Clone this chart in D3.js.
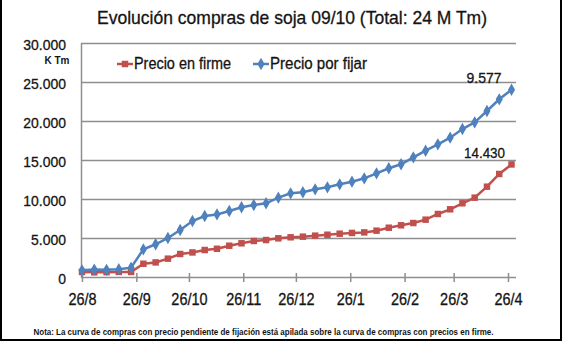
<!DOCTYPE html>
<html>
<head>
<meta charset="utf-8">
<script src="https://cdn.jsdelivr.net/npm/d3@7"></script>
<style>
    html, body { margin: 0; padding: 0; background: #fff; }
    svg { display: block; }
    text { font-family: "Liberation Sans", Arial, sans-serif; fill: #141414; }
    text.heavy { stroke: #141414; stroke-width: 0.3px; }
</style>
</head>
<body>
<svg id="chart" width="562" height="342"></svg>
<script>
// weekly purchase dates, 2009/10 campaign
const weeks = [
    "2009-08-26", "2009-09-02", "2009-09-09", "2009-09-16", "2009-09-23", "2009-09-30",
    "2009-10-07", "2009-10-14", "2009-10-21", "2009-10-28", "2009-11-04", "2009-11-11",
    "2009-11-18", "2009-11-25", "2009-12-02", "2009-12-09", "2009-12-16", "2009-12-23",
    "2009-12-30", "2010-01-06", "2010-01-13", "2010-01-20", "2010-01-27", "2010-02-03",
    "2010-02-10", "2010-02-17", "2010-02-24", "2010-03-03", "2010-03-10", "2010-03-17",
    "2010-03-24", "2010-03-31", "2010-04-07", "2010-04-14", "2010-04-21", "2010-04-28"
];

// K Tm
const precioEnFirme = [
    650, 600, 620, 650, 650, 1700, 1870, 2350, 2950, 3150, 3460, 3620,
    4010, 4320, 4620, 4740, 4960, 5090, 5170, 5300, 5420, 5550, 5650, 5720,
    5940, 6320, 6630, 6920, 7350, 8080, 8680, 9450, 10170, 11580, 13210, 14430
];

// stacked on top of precioEnFirme
const precioPorFijar = [
    200, 350, 300, 350, 550, 1850, 2330, 2650, 3080, 4030, 4360, 4400,
    4450, 4620, 4610, 4710, 5210, 5640, 5690, 5940, 6080, 6330, 6570, 6930,
    7350, 7620, 7820, 8420, 8840, 8930, 9180, 9520, 9660, 9700, 9570, 9577
];

const tickDates = [
    "2009-08-26", "2009-09-26", "2009-10-26", "2009-11-26", "2009-12-26",
    "2010-01-26", "2010-02-26", "2010-03-26", "2010-04-26"
];
const tickLabels = ["26/8", "26/9", "26/10", "26/11", "26/12", "26/1", "26/2", "26/3", "26/4"];
const yTicks = [0, 5000, 10000, 15000, 20000, 25000, 30000];

const
    svg = d3.select("#chart"),
    parse = d3.utcParse("%Y-%m-%d"),
    fmt = d3.format(",.0f"),
    label = v => fmt(v).replace(/,/g, ".");

// the original uses a narrow face; squeeze Liberation Sans to match
function squeeze(sel, factor) {
    sel.each(function () {
        const w = this.getComputedTextLength();
        d3.select(this).attr("textLength", w * factor).attr("lengthAdjust", "spacingAndGlyphs");
    });
}
function fit(sel, width) {
    sel.attr("textLength", width).attr("lengthAdjust", "spacingAndGlyphs");
}

const
    plot = { left: 81, right: 516, top: 43, bottom: 277 },
    x = d3.scaleUtc()
        .domain([parse(tickDates[0]), parse(tickDates[tickDates.length - 1])])
        .range([82, 508]),
    y = d3.scaleLinear().domain([0, 30000]).range([plot.bottom, plot.top]);

const rows = weeks.map((w, i) => ({ date: parse(w), firme: precioEnFirme[i], fijar: precioPorFijar[i] }));
const stacked = d3.stack().keys(["firme", "fijar"])(rows);

// outer frame
svg.append("path")
    .attr("d", "M1,0 V340 H561 V0")
    .attr("fill", "none")
    .attr("stroke", "#000")
    .attr("stroke-width", 2);

// title
svg.append("text")
    .attr("x", 97)
    .attr("y", 24)
    .attr("class", "heavy")
    .style("font-size", "19px")
    .text("Evolución compras de soja 09/10 (Total: 24 M Tm)")
    .call(fit, 390);

// gridlines
svg.append("g")
    .selectAll("line")
    .data(yTicks.filter(d => d > 0))
    .join("line")
    .attr("x1", plot.left)
    .attr("x2", plot.right)
    .attr("y1", d => Math.round(y(d)) + 0.5)
    .attr("y2", d => Math.round(y(d)) + 0.5)
    .attr("stroke", "#8e8e8e")
    .attr("stroke-width", 1.5);

// y axis
const yAxis = svg.append("g")
    .attr("transform", `translate(${plot.left},0)`)
    .call(d3.axisLeft(y).tickValues(yTicks).tickSize(0).tickPadding(15).tickFormat(label));
yAxis.select(".domain").attr("stroke", "#8e8e8e").attr("stroke-width", 1.5);
yAxis.selectAll("text")
    .attr("class", "heavy")
    .style("font-size", "15px")
    .style("font-family", null)
    .attr("fill", "#141414")
    .attr("dy", "0.46em")
    .call(squeeze, 0.93);

svg.append("text")
    .attr("x", 69.5)
    .attr("y", 64)
    .attr("text-anchor", "end")
    .style("font-size", "10px")
    .style("font-weight", "bold")
    .text("K Tm");

// x axis
const xAxis = svg.append("g")
    .attr("transform", `translate(0,${plot.bottom})`)
    .call(d3.axisBottom(x)
        .tickValues(tickDates.map(parse))
        .tickSize(5)
        .tickFormat((d, i) => tickLabels[i]));
xAxis.select(".domain")
    .attr("d", `M${plot.left},0.5H${plot.right}`)
    .attr("stroke", "#8e8e8e")
    .attr("stroke-width", 1.5);
xAxis.selectAll(".tick line").attr("y1", -4).attr("stroke", "#8e8e8e").attr("stroke-width", 1.5);
xAxis.selectAll("text")
    .attr("class", "heavy")
    .style("font-size", "17px")
    .style("font-family", null)
    .attr("fill", "#141414")
    .attr("y", 16)
    .attr("dy", "0.71em")
    .call(squeeze, 0.85);

// series
const series = [
    { key: "firme", name: "Precio en firme", color: "#c0504d", symbol: d3.symbolSquare, size: 42 },
    { key: "fijar", name: "Precio por fijar", color: "#4f81bd", symbol: d3.symbolDiamond, size: 44 }
];

const line = d3.line().x(d => x(d.data.date)).y(d => y(d[1]));

series.forEach((s, k) => {
    const pts = stacked[k];
    const g = svg.append("g");
    g.append("path")
        .datum(pts)
        .attr("d", line)
        .attr("fill", "none")
        .attr("stroke", s.color)
        .attr("stroke-width", 2.5);
    g.selectAll("path.pt")
        .data(pts)
        .join("path")
        .attr("class", "pt")
        .attr("transform", d => `translate(${x(d.data.date)},${y(d[1])})`)
        .attr("d", d3.symbol(s.symbol, s.size))
        .attr("fill", s.color);
});

// end labels
const last = rows.length - 1;
svg.append("text")
    .attr("x", 484.5)
    .attr("y", 157.5)
    .attr("class", "heavy")
    .attr("text-anchor", "middle")
    .style("font-size", "15.5px")
    .text(label(precioEnFirme[last]))
    .call(fit, 41);
svg.append("text")
    .attr("x", 484)
    .attr("y", 83)
    .attr("class", "heavy")
    .attr("text-anchor", "middle")
    .style("font-size", "15.5px")
    .text(label(precioPorFijar[last]))
    .call(fit, 35);

// legend
const legend = svg.append("g")
    .selectAll("g")
    .data(series)
    .join("g")
    .attr("transform", (d, i) => `translate(${i ? 253 : 117},64)`);
legend.append("line")
    .attr("x1", 0).attr("x2", 16)
    .attr("stroke", d => d.color)
    .attr("stroke-width", 2.5);
legend.append("path")
    .attr("transform", "translate(8,0)")
    .attr("d", d => d3.symbol(d.symbol, d.size)())
    .attr("fill", d => d.color);
legend.append("text")
    .attr("x", 17)
    .attr("y", 5)
    .attr("class", "heavy")
    .style("font-size", "16px")
    .text(d => d.name)
    .call(fit, 97);

// footnote
svg.append("text")
    .attr("x", 33.5)
    .attr("y", 334.5)
    .style("font-size", "8.5px")
    .style("font-weight", "bold")
    .text("Nota: La curva de compras con precio pendiente de fijación está apilada sobre la curva de compras con precios en firme.")
    .call(fit, 460);
</script>
</body>
</html>
